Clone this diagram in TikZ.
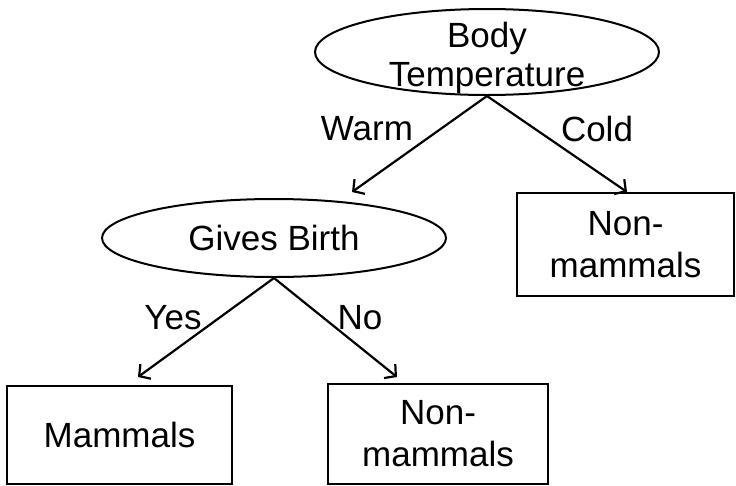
\documentclass[tikz,border=0pt]{standalone}
\usepackage{fontspec}
\setmainfont{Liberation Sans}
\usetikzlibrary{shapes.geometric,arrows.meta}
\begin{document}
\begin{tikzpicture}[x=1pt,y=-1pt,
  every node/.style={font=\fontsize{35}{42}\selectfont},
  test/.style={draw, line width=2pt, ellipse, inner sep=0pt, align=center},
  leaf/.style={draw, line width=2pt, rectangle, inner sep=0pt, align=center},
  branch/.style={line width=2.2pt, -{Straight Barb[length=8pt,width=18pt,line width=2.2pt]}},
  lbl/.style={inner sep=0pt}]
  \useasboundingbox (0,0) rectangle (736,485);

  % decision nodes (two-line text set as a zero-size box so the ellipse keeps its size)
  \node[test, minimum width=344pt, minimum height=86pt] (root) at (487,52)
    {\raisebox{-13pt}[0pt][0pt]{\begin{tabular}{@{}c@{}}Body\\[-3pt]Temperature\end{tabular}}};
  \node[test, minimum width=344pt, minimum height=78pt] (gb) at (274,238)
    {Gives Birth};

  % leaves
  \node[leaf, minimum width=217pt, minimum height=103pt] (cold) at (625.5,244.5)
    {Non-\\mammals};
  \node[leaf, minimum width=225pt, minimum height=98pt] (mam) at (119.5,435)
    {Mammals};
  \node[leaf, minimum width=220pt, minimum height=100pt] (non) at (438,434)
    {Non-\\mammals};

  % arrow end points
  \coordinate (warmEnd) at (352,192);
  \coordinate (coldEnd) at (627,192);
  \coordinate (yesEnd) at (138,377);
  \coordinate (noEnd) at (397,377);

  % branches
  \draw[branch] (root.south) -- (warmEnd);
  \draw[branch] (root.south) -- (coldEnd);
  \draw[branch] (gb.south) -- (yesEnd);
  \draw[branch] (gb.south) -- (noEnd);

  % branch labels
  \node[lbl] (lw) at (367,129) {Warm};
  \node[lbl] (lc) at (597,129) {Cold};
  \node[lbl] (ly) at (173,318) {Yes};
  \node[lbl] (ln) at (360,318) {No};
\end{tikzpicture}
\end{document}
